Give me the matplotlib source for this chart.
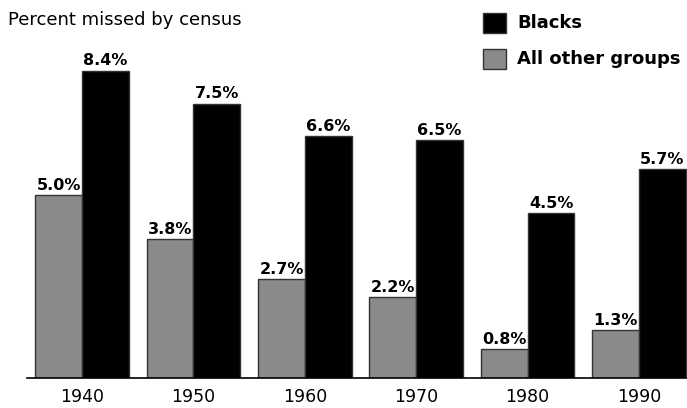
import numpy as np
import matplotlib.pyplot as plt
from matplotlib.patches import Rectangle

# data
years = ["1940", "1950", "1960", "1970", "1980", "1990"]
others = [5.0, 3.8, 2.7, 2.2, 0.8, 1.3]
blacks = [8.4, 7.5, 6.6, 6.5, 4.5, 5.7]
series_names = ["Blacks", "All other groups"]

gray = "#8a8a8a"
W, H = 687, 408

fig = plt.figure(figsize=(W / 100, H / 100), dpi=100)
ax = fig.add_axes([27 / W, 30 / H, 660 / W, 378 / H])

x = np.arange(len(years))
bw = 0.42
b1 = ax.bar(x - bw / 2, others, bw, color=gray, edgecolor="#333333", linewidth=1)
b2 = ax.bar(x + bw / 2, blacks, bw, color="black", edgecolor="#333333", linewidth=1)

# value labels above bars
for bars in (b1, b2):
    for r in bars:
        h = r.get_height()
        ax.annotate(f"{h:.1f}%", (r.get_x() + r.get_width() / 2, h),
                    xytext=(0, 1.5), textcoords="offset points",
                    ha="center", va="bottom", fontsize=11.5, fontweight="bold")

ax.set_xlim(-0.494, 5.43)
ax.set_ylim(0, 378 / 36.6)
ax.set_xticks(x, years, fontsize=12.5)
ax.tick_params(axis="x", length=0, pad=7.5)
ax.set_yticks([])
for s in ["top", "right", "left"]:
    ax.spines[s].set_visible(False)
ax.spines["bottom"].set_linewidth(1.2)

# title
fig.text(8 / W, 1 - 20 / H, "Percent missed by census", fontsize=13,
         ha="left", va="center")

# legend drawn by hand
for i, (name, col) in enumerate(zip(series_names, ["black", gray])):
    top = 13 + i * 36
    fig.add_artist(Rectangle((483 / W, 1 - (top + 20) / H), 23 / W, 20 / H,
                             transform=fig.transFigure, facecolor=col,
                             edgecolor="#333333", linewidth=1))
    fig.text(517 / W, 1 - (top + 10) / H, name, fontsize=13, fontweight="bold",
             ha="left", va="center")

fig.savefig("out.png", dpi=100)
